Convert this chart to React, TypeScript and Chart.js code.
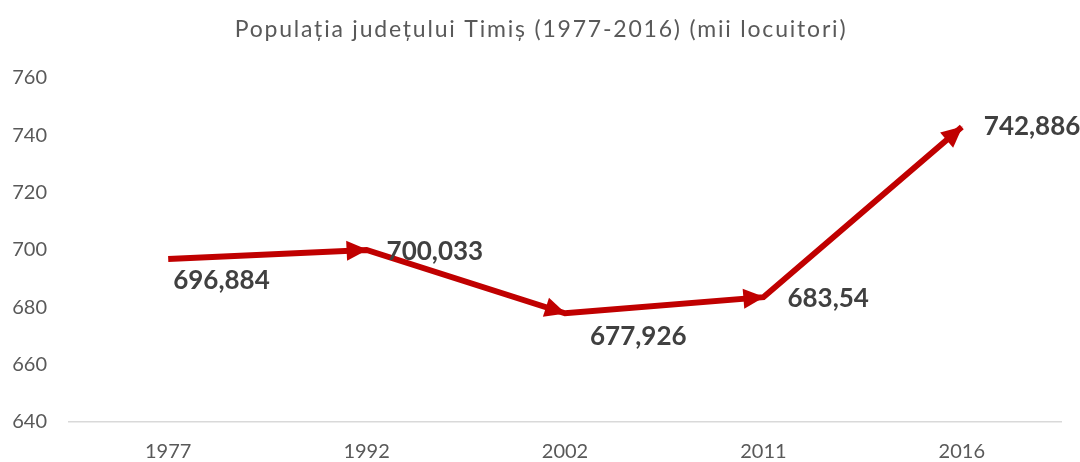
import React, { useEffect, useRef } from "react";
import { Chart, registerables } from "chart.js";

Chart.register(...registerables);

const TITLE = "Populația județului Timiș (1977-2016) (mii locuitori)";
const years = ["1977", "1992", "2002", "2011", "2016"];
const population = [696.884, 700.033, 677.926, 683.54, 742.886];
const valueLabels = ["696,884", "700,033", "677,926", "683,54", "742,886"];
const yMin = 640;
const yMax = 760;
const yStep = 20;

const FONT = "Lato, 'Open Sans', sans-serif";
const LINE_COLOR = "#C00000";

export default function App() {
  const ref = useRef<HTMLCanvasElement>(null);

  useEffect(() => {
    if (!ref.current) return;
    const labelOffsets: [number, number][] = [
      [5, 22],
      [20, 2],
      [25, 23],
      [24, 1],
      [22, 0],
    ];

    const arrowPlugin = {
      id: "arrowsAndLabels",
      afterDatasetsDraw(chart: any) {
        const ctx = chart.ctx;
        const meta = chart.getDatasetMeta(0);
        const pts = meta.data;
        ctx.save();
        ctx.fillStyle = LINE_COLOR;
        for (let i = 1; i < pts.length; i++) {
          const a = pts[i - 1];
          const b = pts[i];
          const dx = b.x - a.x;
          const dy = b.y - a.y;
          const len = Math.hypot(dx, dy);
          const ux = dx / len;
          const uy = dy / len;
          const nx = -uy;
          const ny = ux;
          const L = 20;
          const W = 10;
          ctx.beginPath();
          ctx.moveTo(b.x + ux * 1, b.y + uy * 1);
          ctx.lineTo(b.x - ux * L + nx * W, b.y - uy * L + ny * W);
          ctx.lineTo(b.x - ux * L - nx * W, b.y - uy * L - ny * W);
          ctx.closePath();
          ctx.fill();
        }
        ctx.fillStyle = "#404040";
        ctx.font = `bold 26px ${FONT}`;
        ctx.textAlign = "left";
        ctx.textBaseline = "middle";
        pts.forEach((p: any, i: number) => {
          const [ox, oy] = labelOffsets[i];
          ctx.fillText(valueLabels[i], p.x + ox, p.y + oy);
        });
        ctx.restore();
      },
    };

    const titlePlugin = {
      id: "customTitle",
      afterDraw(chart: any) {
        const ctx = chart.ctx;
        ctx.save();
        ctx.fillStyle = "#595959";
        ctx.font = `23px ${FONT}`;
        (ctx as any).letterSpacing = "1.8px";
        ctx.textAlign = "center";
        ctx.textBaseline = "middle";
        ctx.fillText(TITLE, chart.width / 2 + 1, 30);
        ctx.restore();
      },
    };

    const chart = new Chart(ref.current, {
      type: "line",
      data: {
        labels: years,
        datasets: [
          {
            data: population,
            borderColor: LINE_COLOR,
            borderWidth: 6,
            pointRadius: 0,
            pointHoverRadius: 0,
            tension: 0,
            fill: false,
            borderJoinStyle: "miter",
          },
        ],
      },
      options: {
        responsive: false,
        animation: false,
        layout: { padding: { top: 78, right: 19, bottom: 0, left: 0 } },
        plugins: {
          legend: { display: false },
          title: { display: false },
          tooltip: { enabled: false },
        },
        scales: {
          x: {
            offset: true,
            grid: { display: false, drawTicks: false },
            border: { display: true, color: "#D9D9D9", width: 1.5 },
            ticks: {
              color: "#595959",
              font: { family: FONT, size: 20 },
              padding: 18,
              maxRotation: 0,
            },
            afterFit(scale: any) {
              scale.height = 40;
            },
          },
          y: {
            min: yMin,
            max: yMax,
            grid: { display: false, drawTicks: false },
            border: { display: false },
            ticks: {
              stepSize: yStep,
              color: "#595959",
              font: { family: FONT, size: 20 },
              padding: 22,
            },
            afterFit(scale: any) {
              scale.width = 69;
            },
          },
        },
      },
      plugins: [arrowPlugin, titlePlugin],
    });
    return () => chart.destroy();
  }, []);

  return (
    <div style={{ position: "absolute", left: 0, top: 0, width: 1080, height: 462, background: "#fff" }}>
      <canvas ref={ref} width={1080} height={462} />
    </div>
  );
}
